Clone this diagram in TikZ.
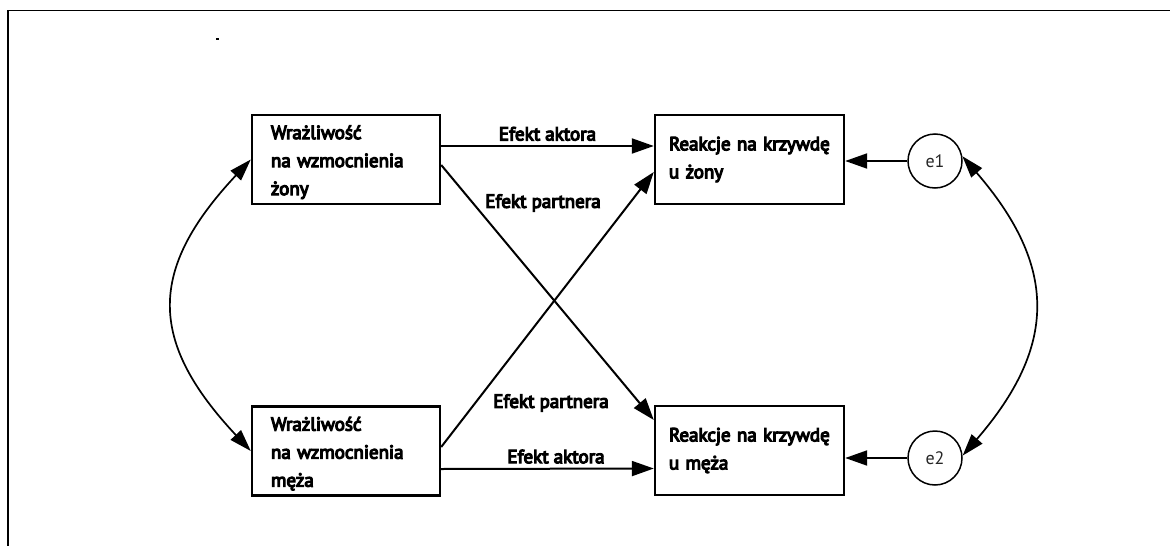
\documentclass[tikz,border=0pt]{standalone}
\usepackage{fontspec}
\setmainfont{PT Sans}
\newfontfamily\semib{PT Sans}[FakeBold=6]
\newcommand{\topstrut}{\rule{0pt}{19pt}}
\usetikzlibrary{arrows.meta,positioning,calc}

\begin{document}
\begin{tikzpicture}[x=1pt,y=-1pt,
    box/.style={draw,rectangle,line width=2.4pt,minimum height=89pt,align=left,
        font=\semib\fontsize{19}{28}\selectfont},
    lbox/.style={box,text width=150pt,inner xsep=19pt},
    rbox/.style={box,text width=161pt,inner xsep=14pt},
    err/.style={draw,circle,line width=1.5pt,minimum size=54pt,inner sep=0pt,
        text=black!85,font=\fontsize{18}{18}\selectfont},
    eff/.style={font=\semib\fontsize{19}{20}\selectfont},
    arr/.style={line width=2pt,-{Triangle[length=22pt,width=15pt]}},
    cov/.style={line width=1.7pt,{Triangle[length=22pt,width=14pt]}-{Triangle[length=22pt,width=14pt]}}]
    \useasboundingbox (0,0) rectangle (1170,546);
    % frame and speck
    \draw[line width=1.2pt] (8,546) -- (8,10.5) -- (1170,10.5);
    \fill (216,38) rectangle (218.5,40);

    % boxes
    \node[lbox] (wz) at (346,159.5) {\topstrut Wrażliwość\\na wzmocnienia\\żony};
    \node[lbox] (wm) at (346,451) {\topstrut Wrażliwość\\na wzmocnienia\\męża};
    \node[rbox] (rz) at (749.5,159.5) {Reakcje na krzywdę\\u żony};
    \node[rbox] (rm) at (749.5,450.5) {Reakcje na krzywdę\\u męża};
    \node[err] (e1) at (935,161) {e1};
    \node[err] (e2) at (935,458) {e2};

    % actor effects
    \draw[arr] ([yshift=13.5pt]wz.east) -- ([yshift=13.5pt]rz.west)
        node[eff,midway,above=1pt] (ak1) {Efekt aktora};
    \draw[arr] ([yshift=-18pt]wm.east) -- ([yshift=-18pt]rm.west)
        node[eff,pos=0.54,above=1pt] (ak2) {Efekt aktora};

    % partner effects
    \draw[arr] ([yshift=-5.5pt]wz.east) -- ([yshift=30.5pt]rm.west);
    \draw[arr] ([yshift=4pt]wm.east) -- ([yshift=-12.5pt]rz.west);
    \node[eff] (pa1) at (543,203) {Efekt partnera};
    \node[eff] (pa2) at (551,403) {Efekt partnera};

    % errors
    \draw[arr] (e1.west) -- (e1.west -| rz.east);
    \draw[arr] (e2.west) -- (e2.west -| rm.east);

    % covariances
    \draw[cov] (wz.west) .. controls +(-103,110) and +(-103,-110) .. (wm.west);
    \draw[cov] (e1.10) .. controls +(95,110) and +(95,-110) .. (e2.5);
\end{tikzpicture}
\end{document}
